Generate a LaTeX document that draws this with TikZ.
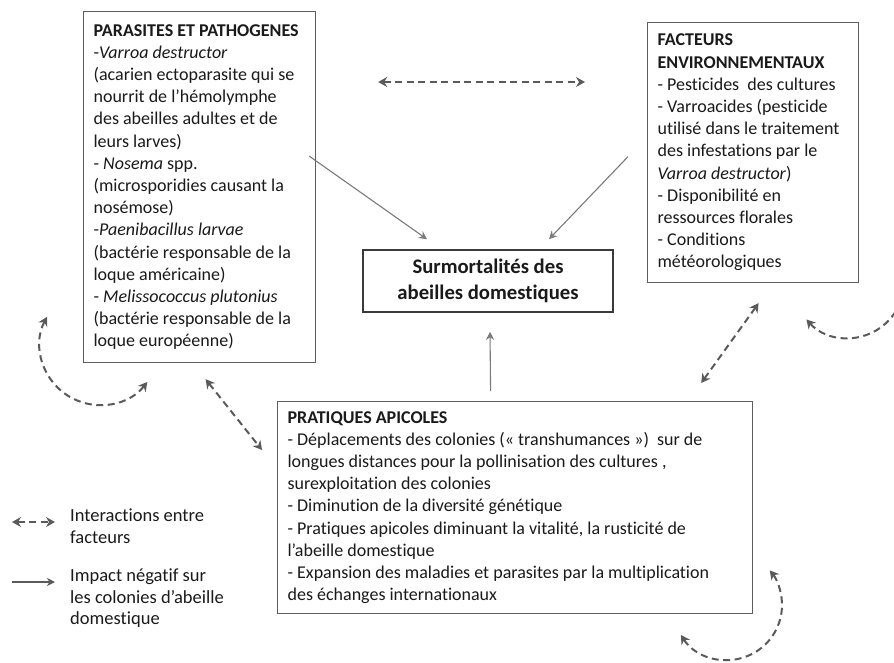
\documentclass[tikz,border=0pt]{standalone}
\usepackage{fontspec}
\setmainfont{Carlito}[Ligatures=NoCommon]
\usepackage{tikz}
\usetikzlibrary{arrows.meta,calc}
\definecolor{cInk}{HTML}{1A1A1A}
\definecolor{cBoxL}{HTML}{5E5E5E}
\definecolor{cEffL}{HTML}{3A3A3A}
\definecolor{cArr}{HTML}{5A5A5A}
\definecolor{cImp}{HTML}{7A7A7A}
\tikzset{
  factbox/.style={draw=cBoxL,line width=1.2pt,fill=white,align=flush left,
      font=\fontsize{18}{22.2}\selectfont,text=cInk,inner xsep=10pt,
      inner ysep=0pt,anchor=north west},
  effbox/.style={draw=cEffL,line width=1.6pt,fill=white,align=center,
      font=\bfseries\fontsize{20.7}{26}\selectfont,text=cInk,
      minimum width=250pt,minimum height=62pt},
  impact/.style={-{Stealth[length=8pt,width=8pt,inset=2.5pt]},
      line width=1.1pt,draw=cImp},
  interact/.style={{Stealth[length=9pt,width=10pt,inset=3pt]}-{Stealth[length=9pt,width=10pt,inset=3pt]},
      line width=2pt,draw=cArr,dash pattern=on 7pt off 4.5pt},
  legtext/.style={align=left,font=\fontsize{18.5}{21.5}\selectfont,text=cInk,
      inner sep=0pt,anchor=north west},
}
% arc shaped interaction loop: name, centre x, centre y, radius, start, end
\newcommand{\selfloop}[6]{%
  \coordinate (#1) at ($(#2,#3)+(#5:#4)$);
  \draw[interact] (#1) arc[start angle=#5,end angle=#6,radius=#4];}

\begin{document}
\begin{tikzpicture}[x=1pt,y=1pt]
  \useasboundingbox (0,0) rectangle (894,-662);

  \node[factbox,text width=212pt,minimum width=232pt,minimum height=351pt]
    (para) at (83,-11) {\textbf{PARASITES ET PATHOGENES}\\
    -\textit{Varroa destructor}\\
    (acarien ectoparasite qui se\\
    nourrit de l’hémolymphe\\
    des abeilles adultes et de\\
    leurs larves)\\
    - \textit{Nosema} spp.\\
    (microsporidies causant la\\
    nosémose)\\
    -\textit{Paenibacillus larvae}\\
    (bactérie responsable de la\\
    loque américaine)\\
    -~\textit{Melissococcus~plutonius}\\
    (bactérie responsable de la\\
    loque européenne)};

  \node[factbox,text width=191pt,minimum width=211pt,minimum height=260pt]
    (fact) at (647,-22) {\textbf{FACTEURS}\\
    \textbf{ENVIRONNEMENTAUX}\\
    - Pesticides\ \ des cultures\\
    - Varroacides (pesticide\\
    utilisé dans le traitement\\
    des infestations par le\\
    \textit{Varroa destructor})\\
    - Disponibilité en\\
    ressources florales\\
    - Conditions\\
    météorologiques};

  \node[factbox,text width=455pt,minimum width=475pt,minimum height=212pt]
    (prat) at (277,-401) {\textbf{PRATIQUES APICOLES}\\
    - Déplacements des colonies (« transhumances »)\ \ sur de\\
    longues distances pour la pollinisation des cultures ,\\
    surexploitation des colonies\\
    - Diminution de la diversité génétique\\
    - Pratiques apicoles diminuant la vitalité, la rusticité de\\
    l’abeille domestique\\
    - Expansion des maladies et parasites par la multiplication\\
    des échanges internationaux};

  \node[effbox] (surm) at (488,-281) {Surmortalités des\\abeilles domestiques};

  % impacts
  \draw[impact] ([shift={(-7,31)}]para.east) -- ([shift={(-61,10)}]surm.north);
  \draw[impact] ([shift={(-19,-4)}]fact.west) -- ([shift={(61,10)}]surm.north);
  \draw[impact] ([shift={(-24.5,10)}]prat.north) -- ([shift={(2,-19)}]surm.south);

  % interactions
  \draw[interact] ([shift={(62,-71)}]para.north east) -- ([shift={(-62,-60)}]fact.north west);
  \draw[interact] ([shift={(6,-16)}]para.south) -- ([shift={(-15,-49)}]prat.north west);
  \draw[interact] ([shift={(5.5,-20)}]fact.south) -- ([shift={(-52,18)}]prat.north east);
  \selfloop{loopPara}{100}{-345}{60}{152}{322}
  \selfloop{loopFact}{848}{-282}{56}{222}{392}
  \selfloop{loopPrat}{727}{-605}{55}{213}{399}

  % legend
  \node[legtext] (legI) at (70,-509) {Interactions entre\\facteurs};
  \node[legtext] (legN) at (70,-569) {Impact négatif sur\\les colonies d’abeille\\domestique};
  \draw[interact] ([shift={(-58,-13)}]legI.north west) -- ([shift={(-15,-13)}]legI.north west);
  \draw[impact,line width=2pt,draw=cArr] ([shift={(-58,-13)}]legN.north west)
    -- ([shift={(-15,-13)}]legN.north west);
\end{tikzpicture}
\end{document}
